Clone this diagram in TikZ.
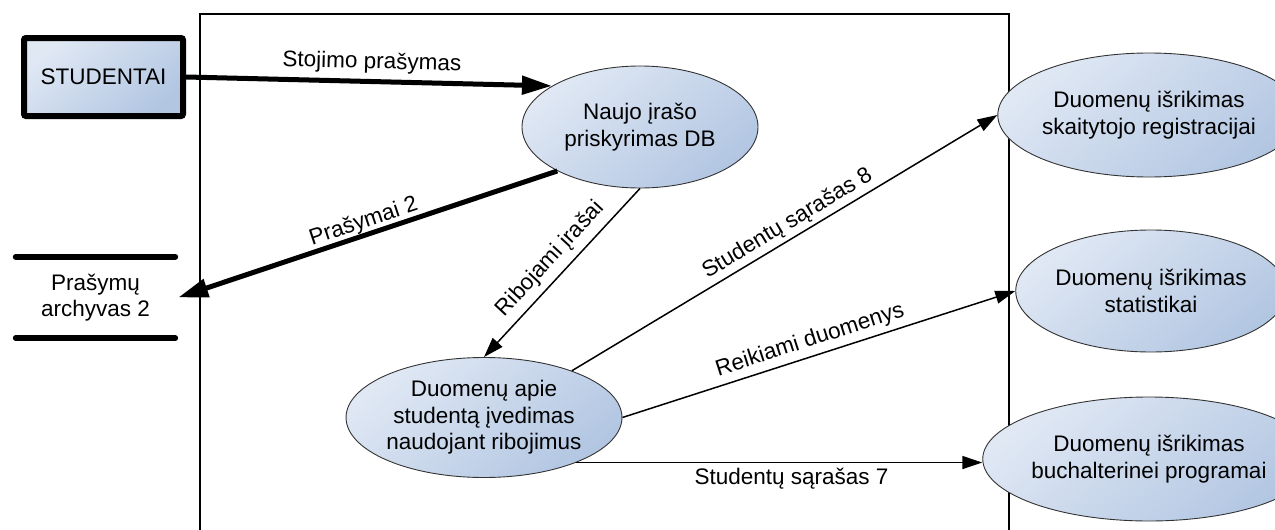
\documentclass[tikz,border=0pt]{standalone}
\usepackage{fontspec}
\setmainfont{Liberation Sans}
\usetikzlibrary{shapes.geometric,arrows.meta}
\definecolor{shadeLight}{HTML}{E0E8F4}
\definecolor{shadeDark}{HTML}{B2C6E2}
\definecolor{rimGray}{HTML}{333333}

\begin{document}
\begin{tikzpicture}[x=1pt,y=-1pt,
  txt/.style={font=\fontsize{22.5}{26.5}\selectfont, align=center},
  proc/.style={ellipse, draw=rimGray, line width=0.9pt,
    top color=shadeLight, bottom color=shadeDark, shading angle=40,
    inner sep=0pt, txt},
  ext/.style={rectangle, draw=black, line width=6pt, rounded corners=2pt,
    top color=shadeLight, bottom color=shadeDark, shading angle=40,
    minimum width=159pt, minimum height=78pt, inner sep=0pt, txt},
  store/.style={rectangle, minimum width=165pt, minimum height=81pt, inner sep=0pt, txt},
  bar/.style={line width=6pt, line cap=round},
  flow/.style={line width=1.5pt, -{Triangle[length=20pt,width=13pt]}},
  bigflow/.style={line width=5pt, -{Triangle[length=30pt,width=18pt]}},
  lbl/.style={txt, inner sep=0pt, text height=17pt, text depth=5pt, sloped}]

\useasboundingbox (0,0) rectangle (1275,530);

% system boundary
\draw[line width=1.8pt] (200,534) -- (200,14) -- (1009,14) -- (1009,534);

% external entity
\node[ext] (stud) at (103.5,77) {STUDENTAI};

% data store
\node[store] (arch) at (95.5,297.5) {Prašymų\\archyvas 2};
\draw[bar] ([xshift=3pt]arch.north west) -- ([xshift=-3pt]arch.north east);
\draw[bar] ([xshift=3pt]arch.south west) -- ([xshift=-3pt]arch.south east);

% processes
\node[proc, minimum width=236pt, minimum height=122pt] (newrec) at (640,127) {Naujo įrašo\\priskyrimas DB};
\node[proc, minimum width=242pt, minimum height=120pt] (entry) at (484,417.5) {Duomenų apie\\studentą įvedimas\\naudojant ribojimus};
\node[proc, minimum width=248pt, minimum height=124pt] (reader) at (1149,115) {Duomenų išrikimas\\skaitytojo registracijai};
\node[proc, minimum width=246pt, minimum height=122pt] (stats) at (1151,291) {Duomenų išrikimas\\statistikai};
\node[proc, minimum width=248pt, minimum height=124pt] (acct) at (1149,459) {Duomenų išrikimas\\buchalterinei programai};

% flows
\draw[bigflow] (stud.east) -- node[lbl, pos=0.507, yshift=19pt] {Stojimo prašymas} (newrec.155);
\draw[bigflow] (newrec.208) -- node[lbl, pos=0.50, yshift=13pt] {Prašymai 2} (arch.east);
\draw[flow] (newrec.south) -- node[lbl, pos=0.49, yshift=18pt] {Ribojami įrašai} (entry.north);
\draw[flow] (entry.28) -- node[lbl, pos=0.525, yshift=15pt] {Studentų sąrašas 8} (reader.west);
\draw[flow] (entry.east) -- node[lbl, pos=0.49, yshift=16pt] {Reikiami duomenys} (stats.west);
\draw[flow] (entry.-26) -- node[lbl, pos=0.53, yshift=-16pt] {Studentų sąrašas 7} (entry.-26 -| acct.west);

\end{tikzpicture}
\end{document}
